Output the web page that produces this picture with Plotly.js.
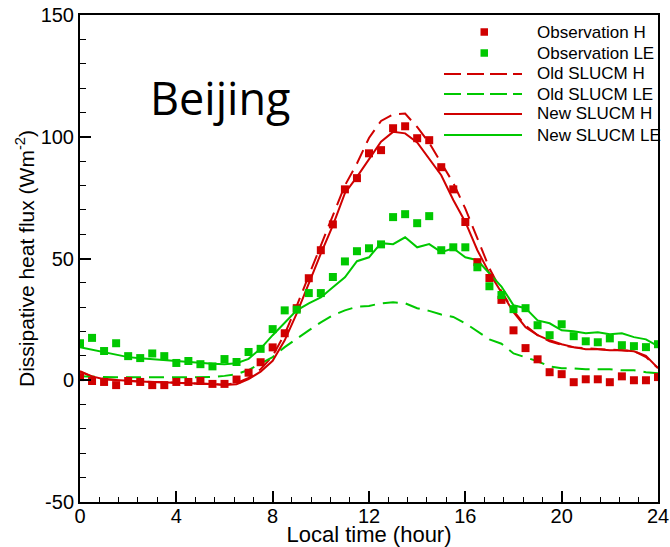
<!DOCTYPE html>
<html>
<head>
<meta charset="utf-8">
<script src="https://cdn.plot.ly/plotly-3.0.1.min.js"></script>
<style>html,body{margin:0;padding:0;background:#fff;}#chart{width:670px;height:547px;}</style>
</head>
<body>
<div id="chart"></div>
<script>
// Local time (hour), half-hourly
const hours = [0,0.5,1,1.5,2,2.5,3,3.5,4,4.5,5,5.5,6,6.5,7,7.5,8,8.5,9,9.5,10,10.5,11,11.5,12,12.5,13,13.5,14,14.5,15,15.5,16,16.5,17,17.5,18,18.5,19,19.5,20,20.5,21,21.5,22,22.5,23,23.5,24];

const obsH = [1.3,-0.3,-0.7,-2,-0.3,-0.7,-2,-2,-0.7,-0.7,-0.3,-1.5,-1.5,0.3,3.1,7.4,13.5,19.3,29.6,41.9,53.4,64,78.4,83,93.2,94.5,103.5,104.3,99.4,98.6,87.5,78.4,65,48.5,42,33,20.5,13.2,8.6,3.3,2.5,-0.8,0.4,0.4,-0.8,1.6,0,0,1.3];

const obsLE = [15.2,17.4,12,15.2,9.9,9.1,11,9.9,7.1,7.9,6.6,5.7,8.7,7.5,11.6,12.9,21,28.7,29,35.8,35.8,42.4,48.8,53,54.2,55.8,67,68.2,64.5,67.4,53.4,54.6,54.6,46.4,38.6,35,29.2,29.6,22.6,18.5,23,18.1,16,15.6,17.2,14.4,14,13.6,14.8];

const oldH = [3.5,1.5,0.5,0,-0.3,-0.5,-0.7,-0.8,-1,-1,-1.2,-1.5,-1.8,-1.2,1,4.5,10,19,30.5,43,55.5,67.5,80,89,99.5,106.5,109.2,109.5,104,97.5,89,81,70.5,58,46,36.5,28.5,22.5,18.5,16,14.5,13.5,13,12.8,12.6,12.3,12,9.5,5];

const oldLE = [1.6,1.4,1.2,1.2,1.2,1.2,1.2,1.2,1.2,1.2,1.2,1.3,1.8,2.5,4.2,7,9.5,13.6,17.2,20.5,23.8,26.7,28.7,30.2,30.5,31.6,32,31.6,29.6,28.5,27,26,23.4,20,16.8,15,11,9.4,7.8,5.7,4.9,4.9,4.5,4.5,4.5,4.1,4.1,3.3,2.9];

const newH = [3.7,1.6,0.4,0,-0.3,-0.5,-0.7,-0.8,-1,-1,-1.2,-1.5,-2,-1.6,0.5,3.5,8,16.4,27.5,40,52,63.6,76.8,83.5,91,98,102,101.4,97.7,91,84.2,74,65,53.4,44,36,28,21.8,18.5,16.4,14.8,13.6,12.7,12.7,12.3,12.3,11.9,10,5];

const newLE = [13.6,12.5,11.5,10.5,9.5,9,8.6,8.2,7.9,7.5,7.1,6.8,6.6,7,8.8,13,18.5,23.8,28.7,31.6,34,38.2,42.3,48.9,50.5,56.3,55.9,58.7,54.6,55.9,52.6,54.2,50.5,49.3,43.9,38.5,30.8,29.6,24.6,23.4,20.5,20.1,19.3,19.7,18.9,19.3,17.7,16.8,14];

const seriesNames = ['Observation H','Observation LE','Old SLUCM H','Old SLUCM LE','New SLUCM H','New SLUCM LE'];
const xTickVals = [0,4,8,12,16,20,24];
const yTickVals = [-50,0,50,100,150];
const cityLabel = 'Beijing';

const RED = '#d00000', GREEN = '#00c800';
const DASH = '15px,8px';
const FONT = 'Liberation Sans, Arial, sans-serif';

const traces = [
  {x: hours, y: oldH, name: seriesNames[2], mode: 'lines', line: {color: RED, width: 2, dash: DASH}},
  {x: hours, y: oldLE, name: seriesNames[3], mode: 'lines', line: {color: GREEN, width: 2, dash: DASH}},
  {x: hours, y: newH, name: seriesNames[4], mode: 'lines', line: {color: RED, width: 2}},
  {x: hours, y: newLE, name: seriesNames[5], mode: 'lines', line: {color: GREEN, width: 2}},
  {x: hours, y: obsH, name: seriesNames[0], mode: 'markers', marker: {color: RED, symbol: 'square', size: 8}},
  {x: hours, y: obsLE, name: seriesNames[1], mode: 'markers', marker: {color: GREEN, symbol: 'square', size: 8}}
];

// Plot area geometry (pixels) used to place the hand-made legend
const M = {l: 80, r: 12, t: 15, b: 45};
const PW = 670 - M.l - M.r, PH = 547 - M.t - M.b;
const px = v => (v - M.l) / PW;
const py = v => (547 - M.b - v) / PH;

// Legend entries: [name index, kind, colour]
const legendSpec = [
  [0, 'marker', RED], [1, 'marker', GREEN],
  [2, 'dash', RED], [3, 'dash', GREEN],
  [4, 'solid', RED], [5, 'solid', GREEN]
];
const rowY = [32, 53, 74, 94, 114, 135];
const shapes = [];
const annotations = [];
legendSpec.forEach((s, i) => {
  const yc = rowY[i];
  if (s[1] === 'marker') {
    shapes.push({type: 'rect', xref: 'paper', yref: 'paper', x0: px(480.5), x1: px(488), y0: py(yc + 3.75), y1: py(yc - 3.75), fillcolor: s[2], line: {width: 0}});
  } else {
    shapes.push({type: 'line', xref: 'paper', yref: 'paper', x0: px(444), x1: px(522), y0: py(yc), y1: py(yc), line: {color: s[2], width: 2, dash: s[1] === 'dash' ? '17px,6px' : 'solid'}});
  }
  annotations.push({text: seriesNames[s[0]], xref: 'paper', yref: 'paper', x: px(535), y: py(yc), xanchor: 'left', yanchor: 'middle', showarrow: false, font: {family: FONT, size: 17, color: '#000'}});
});
annotations.push({
  text: cityLabel, xref: 'paper', yref: 'paper', x: px(220), y: py(97),
  xanchor: 'center', yanchor: 'middle', showarrow: false,
  font: {family: 'Open Sans, sans-serif', size: 45, color: '#000'}
});

const layout = {
  width: 670, height: 547,
  margin: M,
  paper_bgcolor: '#fff', plot_bgcolor: '#fff',
  showlegend: false,
  xaxis: {
    range: [0, 24], tickvals: xTickVals, ticktext: xTickVals.map(String),
    ticks: 'inside', ticklen: 11, tickwidth: 2, tickcolor: '#000',
    minor: {dtick: 0.8, tick0: 0, ticks: 'inside', ticklen: 5, tickwidth: 1, tickcolor: '#000'},
    showline: true, linewidth: 2, linecolor: '#000', mirror: true,
    showgrid: false, zeroline: false,
    tickfont: {family: FONT, size: 20, color: '#000'},
    ticklabelstandoff: -5,
    title: {text: 'Local time (hour)', font: {family: FONT, size: 22, color: '#000'}, standoff: 1}
  },
  yaxis: {
    range: [-50, 150], tickvals: yTickVals, ticktext: yTickVals.map(String),
    ticks: 'inside', ticklen: 11, tickwidth: 2, tickcolor: '#000',
    minor: {dtick: 10, tick0: 0, ticks: 'inside', ticklen: 6, tickwidth: 1, tickcolor: '#000'},
    showline: true, linewidth: 2, linecolor: '#000', mirror: true,
    showgrid: false, zeroline: false,
    tickfont: {family: FONT, size: 20, color: '#000'},
    title: {text: 'Dissipative heat flux (Wm<sup>-2</sup>)', font: {family: FONT, size: 21, color: '#000'}, standoff: 0}
  },
  shapes: shapes,
  annotations: annotations
};

Plotly.newPlot('chart', traces, layout, {staticPlot: true, displayModeBar: false});
</script>
</body>
</html>
